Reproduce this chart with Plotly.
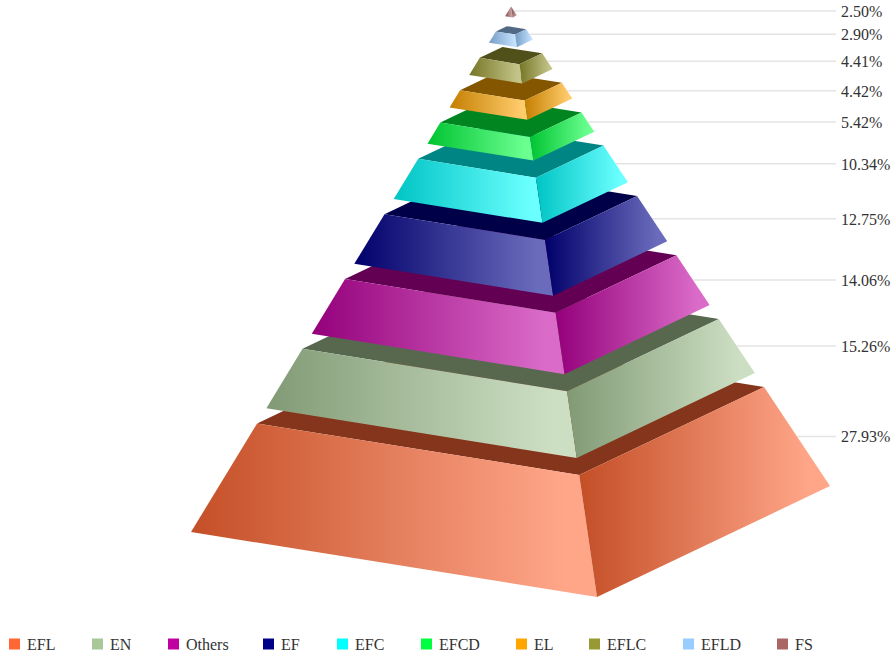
import plotly.graph_objects as go

# Data, bottom layer first
categories = ["EFL", "EN", "Others", "EF", "EFC", "EFCD", "EL", "EFLC", "EFLD", "FS"]
values = [27.93, 15.26, 14.06, 12.75, 10.34, 5.42, 4.42, 4.41, 2.90, 2.50]
colors = ["#FF6633", "#A8C898", "#C000A0", "#00008B", "#00FFFF",
          "#00FF40", "#FFA500", "#999933", "#99CCFF", "#AA6666"]

W, H = 893, 660
FONT = "Liberation Serif"

# Projected pyramid frame (in page pixels)
LEFT, FRONT, RIGHT = (191, 532), (597, 597), (830, 486)
BACK = (LEFT[0] + RIGHT[0] - FRONT[0], LEFT[1] + RIGHT[1] - FRONT[1])
APEX = (511, 6.5)
HEIGHT_SHARE = 0.74          # share of pyramid height taken by the layers
LABEL_X, LINE_END, TEXT_DY = 841, 836, 2

# Legend layout
SWATCH_LEFT = [9, 92, 168, 263, 337, 421, 516, 589, 683, 777]
SWATCH_SIZE, TEXT_OFFSET, LEGEND_Y = 11, 18, 644


def along(corner, t):
    return (corner[0] + (APEX[0] - corner[0]) * t, corner[1] + (APEX[1] - corner[1]) * t)


def rgb(h):
    return tuple(int(h[i:i + 2], 16) for i in (1, 3, 5))


def shade(h, k):
    return "rgb(%d,%d,%d)" % tuple(round(c * k) for c in rgb(h))


def tint(h, k):
    return "rgb(%d,%d,%d)" % tuple(round(c + (255 - c) * k) for c in rgb(h))


def poly(points, **kw):
    xs = [p[0] for p in points] + [points[0][0]]
    ys = [p[1] for p in points] + [points[0][1]]
    return go.Scatter(x=xs, y=ys, mode="lines", fill="toself", line=dict(width=0),
                      hoverinfo="skip", showlegend=False, **kw)


total = sum(values)
gap = (1 - HEIGHT_SHARE) / (len(values) - 1)

fig = go.Figure()
t = 0.0
bands = []
for v in values:
    t1 = t + v / total * HEIGHT_SHARE
    bands.append((t, t1))
    t = t1 + gap

# leader lines sit behind the pyramid
line_y = []
for (t0, t1) in bands:
    a, b = along(RIGHT, t0), along(RIGHT, t1)
    mx, my = (a[0] + b[0]) / 2, (a[1] + b[1]) / 2
    line_y.append(my)
    fig.add_trace(go.Scatter(x=[mx, LINE_END], y=[my, my], mode="lines",
                             line=dict(color="#E4E4E4", width=1.5),
                             hoverinfo="skip", showlegend=False))

for (t0, t1), c in zip(bands, colors):
    L0, F0, R0 = along(LEFT, t0), along(FRONT, t0), along(RIGHT, t0)
    L1, F1, R1, B1 = along(LEFT, t1), along(FRONT, t1), along(RIGHT, t1), along(BACK, t1)
    scale = [[0, shade(c, 0.77)], [0.92, tint(c, 0.42)], [1, tint(c, 0.42)]]
    grad = dict(type="horizontal", colorscale=scale)
    fig.add_trace(poly([L1, F1, R1, B1], fillcolor=shade(c, 0.52)))
    fig.add_trace(poly([L0, F0, F1, L1], fillgradient=grad))
    fig.add_trace(poly([F0, R0, R1, F1], fillgradient=grad))

# value labels
fig.add_trace(go.Scatter(x=[LABEL_X] * len(values), y=[y + TEXT_DY for y in line_y], mode="text",
                         text=["%.2f%%" % v for v in values],
                         textposition="middle right",
                         textfont=dict(family=FONT, size=16, color="#333333"),
                         hoverinfo="skip", showlegend=False))

# legend row: swatches and their names
fig.add_trace(go.Scatter(x=[s + SWATCH_SIZE / 2 for s in SWATCH_LEFT], y=[LEGEND_Y] * len(colors),
                         mode="markers", hoverinfo="skip", showlegend=False,
                         marker=dict(symbol="square", size=SWATCH_SIZE, color=colors)))
fig.add_trace(go.Scatter(x=[s + TEXT_OFFSET for s in SWATCH_LEFT], y=[LEGEND_Y + TEXT_DY] * len(colors),
                         mode="text", text=categories, textposition="middle right",
                         textfont=dict(family=FONT, size=16, color="#333333"),
                         hoverinfo="skip", showlegend=False))

fig.update_layout(
    width=W, height=H, autosize=False,
    margin=dict(l=0, r=0, t=0, b=0),
    paper_bgcolor="white", plot_bgcolor="white",
    xaxis=dict(range=[0, W], visible=False, fixedrange=True),
    yaxis=dict(range=[H, 0], visible=False, fixedrange=True),
    showlegend=False,
)
fig.write_html("out.html", config=dict(displayModeBar=False),
               post_script="document.body.style.margin='0';document.documentElement.style.overflow='hidden';")
